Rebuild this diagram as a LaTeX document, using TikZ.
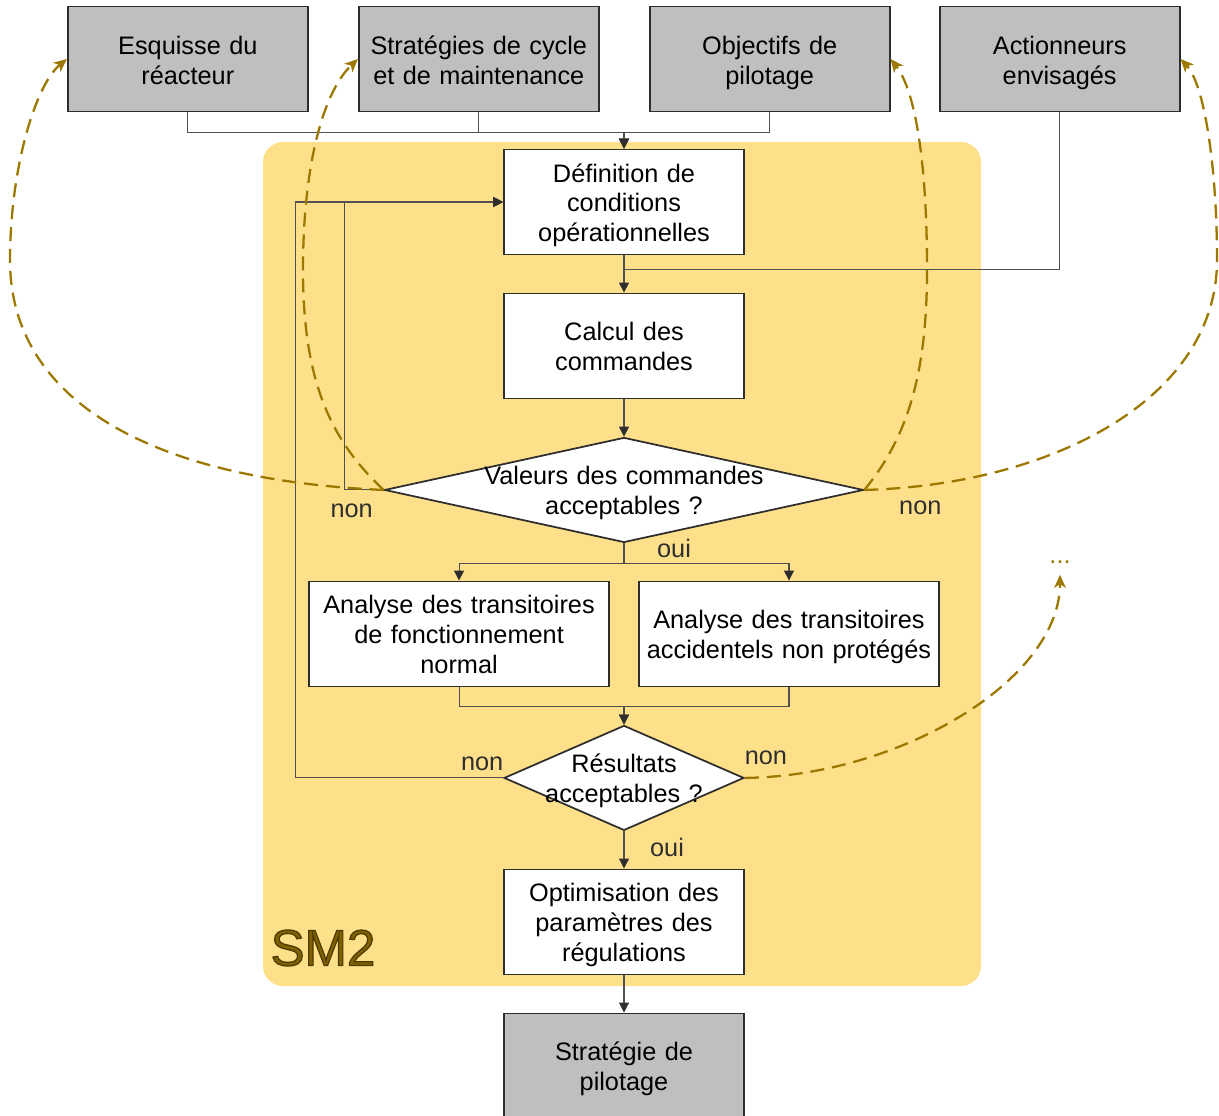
\documentclass[tikz,border=0pt]{standalone}
\usepackage{fontspec}
\setmainfont{Liberation Sans}
\usepackage{xcolor}
\usetikzlibrary{arrows.meta,shapes.geometric,positioning,calc}
\definecolor{sable}{HTML}{FFE08A}
\definecolor{ardoise}{HTML}{BFBFBF}
\definecolor{encre}{HTML}{2E2E2E}
\definecolor{filet}{HTML}{505050}
\definecolor{bronze}{HTML}{9C7800}
\definecolor{bronzefonce}{HTML}{7F6000}
\newcommand{\textecourant}{\fontsize{14.4}{17.07}\selectfont}
\newcommand{\contourne}[1]{\special{pdf:literal 2 Tr 0.7 w 0.3 0.23 0 RG}#1\special{pdf:literal 0 Tr}}
\tikzset{
  boite/.style={rectangle, draw=encre, fill=ardoise, line width=1pt, minimum width=4.8cm, minimum height=2.1cm,
    inner sep=0pt, text width=4.8cm, align=center, font=\textecourant, text=black,
    execute at begin node={\rule{0pt}{16.5pt}}, execute at end node={\strut}},
  etape/.style={boite, fill=white},
  etapelarge/.style={etape, minimum width=6cm, text width=6cm},
  losange/.style={diamond, draw=encre, fill=white, line width=1pt, inner sep=0pt, minimum height=2.1cm},
  textelosange/.style={font=\textecourant, text width=6cm, align=center, inner sep=0pt, text=black,
    execute at begin node={\rule{0pt}{16.5pt}}, execute at end node={\strut}},
  fleche/.style={draw=filet, line width=0.6pt, -{Triangle[length=2mm,width=2mm,color=encre]}},
  lien/.style={draw=filet, line width=0.6pt},
  retour/.style={draw=bronze, line width=1.3pt, dash pattern=on 8pt off 4.5pt,
    -{Stealth[length=2.6mm,width=2.3mm,inset=0.7mm]}},
  etiquette/.style={font=\textecourant, text=encre, inner sep=0pt},
}

\begin{document}
\begin{tikzpicture}[x=0.02cm, y=-0.02cm, node distance=0.745cm and 0.985cm]
    \useasboundingbox (0,0) rectangle (1219,1115);
    \fill[sable, rounded corners=0.4cm] (263,142) rectangle (981,986);
    \node[etape] (def) at (624,202) {Définition de\\conditions\\opérationnelles};
    \node[boite, above=0.725cm of def, xshift=-2.905cm] (strat) {Stratégies de cycle\\et de maintenance};
    \node[boite, left=of strat] (esq) {Esquisse du\\réacteur};
    \node[boite, right=of strat] (obj) {Objectifs de\\pilotage};
    \node[boite, right=0.965cm of obj] (act) {Actionneurs\\envisagés};
    \node[etape, below=of def] (calc) {Calcul des\\commandes};
    \node[losange, minimum width=9.58cm, below=of calc,
      label={[textelosange]center:{Valeurs des commandes\\acceptables ?}}] (val) {};
    \node[etapelarge, below=of val, xshift=-3.3cm] (ana1) {Analyse des transitoires\\de fonctionnement\\normal};
    \node[etapelarge, below=of val, xshift=3.3cm] (ana2) {Analyse des transitoires\\accidentels non protégés};
    \coordinate (fusion) at (ana1.south -| val.south);
    \node[losange, minimum width=4.8cm, below=0.745cm of fusion,
      label={[textelosange]center:{Résultats\\acceptables ?}}] (res) {};
    \node[etape, below=of res] (opt) {Optimisation des\\paramètres des\\régulations};
    \node[boite, below=of opt] (pil) {Stratégie de\\pilotage};
    \node[font=\fontsize{29}{34}\selectfont, text=bronzefonce, inner sep=0pt] (sm) at (323,948) {\contourne{SM2}};
    \node[etiquette, text=bronze, inner xsep=0pt, inner ysep=0.22cm] (suite) at (1060,562) {...};
    \node[etiquette] (non1) at ($(val.west)+(-32,21)$) {non};
    \node[etiquette] (non2) at ($(val.east)+(56,18)$) {non};
    \node[etiquette] (oui1) at ($(val.south)+(50,5)$) {oui};
    \node[etiquette] (non3) at ($(res.west)+(-21,-14)$) {non};
    \node[etiquette] (non4) at ($(res.east)+(21,-20)$) {non};
    \node[etiquette] (oui2) at ($(opt.north)+(43,-21)$) {oui};
    \draw[fleche] (esq.south) -- ++(0,20) -| (def.north);
    \draw[fleche] (strat.south) -- ++(0,20) -| (def.north);
    \draw[fleche] (obj.south) -- ++(0,20) -| (def.north);
    \draw[lien] (act.south) |- ($(def.south)+(0,14)$);
    \draw[fleche] (def) -- (calc);
    \draw[fleche] (calc) -- (val);
    \draw[fleche] (val.west) -- ++(-39,0) |- (def.west);
    \draw[fleche] (val.south) -- ++(0,20) -| (ana1.north);
    \draw[fleche] (val.south) -- ++(0,20) -| (ana2.north);
    \draw[fleche] (ana1.south) -- ++(0,19) -| (res.north);
    \draw[fleche] (ana2.south) -- ++(0,19) -| (res.north);
    \draw[fleche] (res.west) -- ++(-208,0) |- (def.west);
    \draw[fleche] (res) -- (opt);
    \draw[fleche] (opt) -- (pil);
    \draw[retour] (val.west) .. controls (150,480) and (10,400) .. (10,260) .. controls (10,170) and (35,85) .. (esq.west);
    \draw[retour] (val.west) .. controls (330,440) and (303,380) .. (303,270) .. controls (303,160) and (325,90) .. (strat.west);
    \draw[retour] (val.east) .. controls (905,440) and (927,380) .. (927,270) .. controls (927,160) and (915,90) .. (obj.east);
    \draw[retour] (val.east) .. controls (1050,485) and (1217,400) .. (1217,260) .. controls (1217,170) and (1205,85) .. (act.east);
    \draw[retour] (res.east) .. controls (900,776) and (1060,680) .. (suite.south);
\end{tikzpicture}
\end{document}
